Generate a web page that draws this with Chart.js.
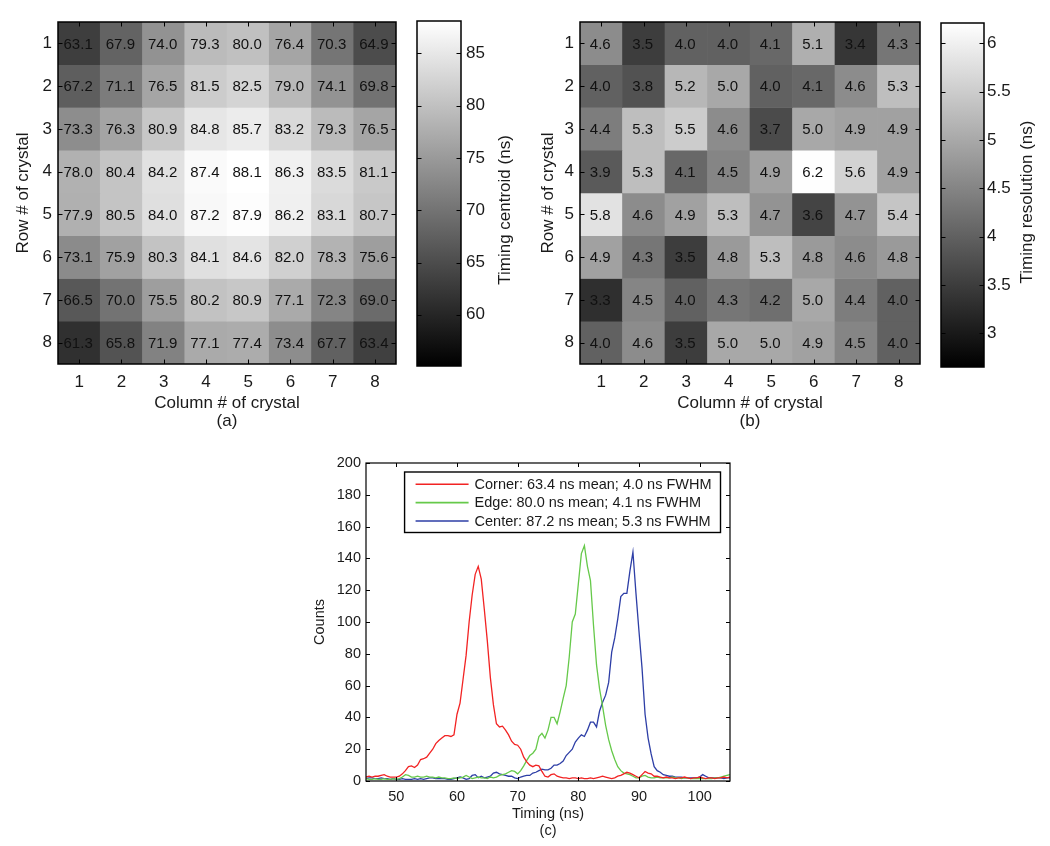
<!DOCTYPE html>
<html>
<head>
<meta charset="utf-8">
<script src="https://cdn.jsdelivr.net/npm/chart.js@4.4.1/dist/chart.umd.min.js"></script>
<style>
html,body{margin:0;padding:0;background:#fff;width:1050px;height:846px;overflow:hidden;}
canvas{position:absolute;}
</style>
</head>
<body>
<canvas id="heatA" style="left:0px;top:0px" width="410" height="440"></canvas>
<canvas id="barA" style="left:400px;top:0px" width="130" height="440"></canvas>
<canvas id="heatB" style="left:522px;top:0px" width="410" height="440"></canvas>
<canvas id="barB" style="left:925px;top:0px" width="125" height="440"></canvas>
<canvas id="lines" style="left:290px;top:440px" width="470" height="406"></canvas>
<script>
// ---------------- data ----------------
const crystalCols = ['1','2','3','4','5','6','7','8'];
const crystalRows = [1,2,3,4,5,6,7,8];

const centroidRows = [
  [63.1, 67.9, 74.0, 79.3, 80.0, 76.4, 70.3, 64.9],
  [67.2, 71.1, 76.5, 81.5, 82.5, 79.0, 74.1, 69.8],
  [73.3, 76.3, 80.9, 84.8, 85.7, 83.2, 79.3, 76.5],
  [78.0, 80.4, 84.2, 87.4, 88.1, 86.3, 83.5, 81.1],
  [77.9, 80.5, 84.0, 87.2, 87.9, 86.2, 83.1, 80.7],
  [73.1, 75.9, 80.3, 84.1, 84.6, 82.0, 78.3, 75.6],
  [66.5, 70.0, 75.5, 80.2, 80.9, 77.1, 72.3, 69.0],
  [61.3, 65.8, 71.9, 77.1, 77.4, 73.4, 67.7, 63.4]
];
const resolutionRows = [
  [4.6, 3.5, 4.0, 4.0, 4.1, 5.1, 3.4, 4.3],
  [4.0, 3.8, 5.2, 5.0, 4.0, 4.1, 4.6, 5.3],
  [4.4, 5.3, 5.5, 4.6, 3.7, 5.0, 4.9, 4.9],
  [3.9, 5.3, 4.1, 4.5, 4.9, 6.2, 5.6, 4.9],
  [5.8, 4.6, 4.9, 5.3, 4.7, 3.6, 4.7, 5.4],
  [4.9, 4.3, 3.5, 4.8, 5.3, 4.8, 4.6, 4.8],
  [3.3, 4.5, 4.0, 4.3, 4.2, 5.0, 4.4, 4.0],
  [4.0, 4.6, 3.5, 5.0, 5.0, 4.9, 4.5, 4.0]
];
const centroidRange = [55.1, 88.1];
const resolutionRange = [2.65, 6.21];
const centroidTicks = [60, 65, 70, 75, 80, 85];
const resolutionTicks = [3, 3.5, 4, 4.5, 5, 5.5, 6];

const timing = [
  45,45.5,46,46.5,47,47.5,48,48.5,49,49.5,
  50,50.5,51,51.5,52,52.5,53,53.5,54,54.5,
  55,55.5,56,56.5,57,57.5,58,58.5,59,59.5,
  60,60.5,61,61.5,62,62.5,63,63.5,64,64.5,
  65,65.5,66,66.5,67,67.5,68,68.5,69,69.5,
  70,70.5,71,71.5,72,72.5,73,73.5,74,74.5,
  75,75.5,76,76.5,77,77.5,78,78.5,79,79.5,
  80,80.5,81,81.5,82,82.5,83,83.5,84,84.5,
  85,85.5,86,86.5,87,87.5,88,88.5,89,89.5,
  90,90.5,91,91.5,92,92.5,93,93.5,94,94.5,
  95,95.5,96,96.5,97,97.5,98,98.5,99,99.5,
  100,100.5,101,101.5,102,102.5,103,103.5,104,104.5,
  105
];
const cornerCounts = [
  2.5,3,2.5,3,3,3.5,4,3,2.5,2.5,
  2.5,3,4.5,6.5,9,9.5,8.5,10,13.5,14,
  15,17.5,20,23.5,25.5,27,28.5,28.5,28,29,
  42,49,64,79,100,117,130,135,127,108,
  88,65,48,36,34,34.5,32,29,25,23,
  22.5,20,15,12,10,9,10,9.5,6,3,
  2.5,4,4.5,3,2.5,2,2,1.5,2,2,
  1.5,2,1.5,1.5,2,1.5,2,2.5,3,2.5,
  2,1.5,2,3,3.5,4.5,5.5,5,4,3,
  2,4,6,5,4.5,3,3,2.5,2,2.5,
  2,2,1.5,2,2,2.5,2,1.5,2,2,
  2.5,2,1.5,2,2,1.5,2,2,2.5,2,
  2.5
];
const edgeCounts = [
  1.5,1,1,1.5,1,1,1.5,1,1,1.5,
  1,1.5,2.5,4,3.5,2.5,2.5,3,2.5,2.5,
  3,2.5,2.5,2,2.5,2,2,1.5,1.5,2,
  1.5,2,2.5,3.5,2.5,1.5,2,2.5,2,2,
  1.5,2.5,2,2.5,3.5,4,4.5,5.5,6.5,6,
  4.5,6.5,9.5,13,16,17.5,20,28,30,27,
  32,40,40,36,43.5,52,60,78,100,105,
  124,143,148,135,126,98,73,58,47,35,
  26,19,13.5,9,6.5,5,4.5,4,3,2,
  2,3,3.5,2.5,2,2,2.5,2,2,2,
  2,2.5,2,2,1.5,2,2,1.5,1.5,1.5,
  1.5,1.5,1.5,1.5,1.5,2,2,2.5,3,3.5,
  4
];
const centerCounts = [
  1.5,2,2,1.5,1.5,2,1.5,1.5,1,1.5,
  1,1,1.5,1,1,1,1.5,1,1.5,1,
  1.5,2,2,1.5,1.5,1.5,1.5,1,1,1.5,
  2,2.5,2,1,1.5,3.5,4,2,3,2,
  2.5,3,5,5.5,4.5,4,3.5,3,3,2,
  1.5,2.5,3,3.5,3.5,5,5.5,6.5,7.5,7,
  7,8,10,10,11,12.5,16,18,20,24.5,
  27,29,28,32,37,37,34,44,49.5,54,
  62,81,90,102,116,118,118,132,144,118,
  94,71,42,27,17,9,6.5,5.5,4,3.5,
  3,3,2.5,2.5,2.5,2,2,2,2,2,
  2.5,4,3,2,2,2,2,2,1.5,2,
  2
];
const timingTicks = [50, 60, 70, 80, 90, 100];
const countTicks = [0, 20, 40, 60, 80, 100, 120, 140, 160, 180, 200];
const seriesLabels = [
  'Corner: 63.4 ns mean; 4.0 ns FWHM',
  'Edge: 80.0 ns mean; 4.1 ns FWHM',
  'Center: 87.2 ns mean; 5.3 ns FWHM'
];
const seriesColors = ['#f22323', '#66c94a', '#2d3ea6'];

// ---------------- helpers ----------------
const FONT = '"Liberation Sans", Arial, Helvetica, sans-serif';
Chart.defaults.font.family = FONT;
Chart.defaults.color = '#1a1a1a';

function grayOf(v, range) {
  const f = Math.max(0, Math.min(1, (v - range[0]) / (range[1] - range[0])));
  const g = Math.round(f * 255);
  return 'rgb(' + g + ',' + g + ',' + g + ')';
}
function fixedTicks(values) {
  return function (axis) { axis.ticks = values.map(v => ({ value: v })); };
}
const plainLabel = v => String(v);
const noGrid = { display: false, drawTicks: false };

const frame = {
  id: 'frame',
  afterDatasetsDraw(chart, args, o) {
    const { ctx, chartArea: a } = chart;
    const L = o.len || 4;
    ctx.save();
    ctx.strokeStyle = '#000';
    ctx.lineWidth = 1;
    ctx.beginPath();
    if (o.xTicks !== false) {
      const xs = chart.scales.x;
      xs.ticks.forEach((t, i) => {
        const px = Math.round(xs.getPixelForTick(i)) + 0.5;
        ctx.moveTo(px, a.bottom); ctx.lineTo(px, a.bottom - L);
        ctx.moveTo(px, a.top); ctx.lineTo(px, a.top + L);
      });
    }
    const ys = chart.scales.y;
    ys.ticks.forEach((t, i) => {
      const py = Math.round(ys.getPixelForTick(i)) + 0.5;
      ctx.moveTo(a.left, py); ctx.lineTo(a.left + L, py);
      ctx.moveTo(a.right, py); ctx.lineTo(a.right - L, py);
    });
    ctx.stroke();
    ctx.lineWidth = o.borderWidth || 1.2;
    ctx.strokeRect(a.left, a.top, a.right - a.left, a.bottom - a.top);
    ctx.restore();
  }
};

const cellLabels = {
  id: 'cellLabels',
  afterDatasetsDraw(chart, args, o) {
    const ctx = chart.ctx;
    ctx.save();
    ctx.font = o.size + 'px ' + FONT;
    ctx.fillStyle = '#111';
    ctx.textAlign = 'center';
    ctx.textBaseline = 'middle';
    chart.data.datasets.forEach((ds, di) => {
      chart.getDatasetMeta(di).data.forEach((el, j) => {
        ctx.fillText(ds.values[j].toFixed(1), el.x + (o.dx || 0), (el.y + el.base) / 2 + 1);
      });
    });
    ctx.restore();
  }
};

const sideTitle = {
  id: 'sideTitle',
  afterDraw(chart, args, o) {
    const ctx = chart.ctx;
    ctx.save();
    ctx.font = o.size + 'px ' + FONT;
    ctx.fillStyle = '#1a1a1a';
    ctx.textAlign = 'center';
    ctx.textBaseline = 'middle';
    ctx.translate(o.x, o.y);
    ctx.rotate(-Math.PI / 2);
    ctx.fillText(o.text, 0, 0);
    ctx.restore();
  }
};

const boxLegend = {
  id: 'boxLegend',
  afterDatasetsDraw(chart, args, o) {
    const { ctx, chartArea: a } = chart;
    ctx.save();
    ctx.font = o.size + 'px ' + FONT;
    const ds = chart.data.datasets;
    const tw = Math.max(...ds.map(d => ctx.measureText(d.label).width));
    const w = 70 + tw + 9;
    const h = 60.5;
    const right = a.right - 9.5;
    const left = right - w;
    const top = a.top + 9;
    ctx.fillStyle = '#fff';
    ctx.fillRect(left, top, w, h);
    ctx.strokeStyle = '#000';
    ctx.lineWidth = 1.4;
    ctx.strokeRect(left, top, w, h);
    ds.forEach((d, i) => {
      const y = top + 12.2 + i * 18.4;
      ctx.strokeStyle = d.borderColor;
      ctx.lineWidth = 1.6;
      ctx.beginPath();
      ctx.moveTo(left + 11, y); ctx.lineTo(left + 64, y);
      ctx.stroke();
      ctx.fillStyle = '#1a1a1a';
      ctx.textAlign = 'left';
      ctx.textBaseline = 'middle';
      ctx.fillText(d.label, left + 70, y + 0.5);
    });
    ctx.restore();
  }
};

// ---------------- heatmaps ----------------
function heatmap(id, rows, range, letter, yTitlePad, padRight) {
  return new Chart(document.getElementById(id), {
    type: 'bar',
    data: {
      labels: crystalCols,
      datasets: rows.map((vals, r) => ({
        data: vals.map(() => [crystalRows[r] - 0.5, crystalRows[r] + 0.5]),
        values: vals,
        backgroundColor: vals.map(v => grayOf(v, range)),
        borderWidth: 0,
        barPercentage: 1,
        categoryPercentage: 1,
        grouped: false
      }))
    },
    options: {
      responsive: false,
      animation: false,
      events: [],
      layout: { padding: { top: 22, right: padRight, left: 0, bottom: 0 } },
      plugins: {
        legend: { display: false },
        tooltip: { enabled: false },
        frame: { len: 4.5, borderWidth: 1.5 },
        cellLabels: { size: 15, dx: -1 }
      },
      scales: {
        x: {
          type: 'category',
          offset: true,
          grid: noGrid,
          border: { display: false },
          ticks: { font: { size: 17 }, padding: 8, autoSkip: false, maxRotation: 0 },
          title: { display: true, text: ['Column # of crystal', letter], font: { size: 17, lineHeight: 1.1 }, padding: { top: 0, bottom: 9 } },
          afterFit: s => { s.height = 76; }
        },
        y: {
          type: 'linear',
          min: 0.5,
          max: 8.5,
          reverse: true,
          afterBuildTicks: fixedTicks(crystalRows),
          grid: noGrid,
          border: { display: false },
          ticks: { font: { size: 17 }, padding: 6, callback: plainLabel },
          title: { display: true, text: 'Row # of crystal', font: { size: 17 }, padding: { top: yTitlePad, bottom: 0 } },
          afterFit: s => { s.width = 58; }
        }
      }
    },
    plugins: [frame, cellLabels]
  });
}

function colorbar(id, range, ticks, label, c) {
  return new Chart(document.getElementById(id), {
    type: 'bar',
    data: {
      labels: [''],
      datasets: [{
        data: [[range[0], range[1]]],
        backgroundColor: (ctx) => {
          const ch = ctx.chart, a = ch.chartArea;
          if (!a) return '#888';
          const g = ch.ctx.createLinearGradient(0, a.bottom, 0, a.top);
          g.addColorStop(0, '#000');
          g.addColorStop(1, '#fff');
          return g;
        },
        borderWidth: 0,
        barPercentage: 1,
        categoryPercentage: 1
      }]
    },
    options: {
      responsive: false,
      animation: false,
      events: [],
      layout: { padding: { top: c.top, left: c.left, bottom: c.bottom, right: 0 } },
      plugins: {
        legend: { display: false },
        tooltip: { enabled: false },
        frame: { xTicks: false, len: 4.5, borderWidth: 1.5 },
        sideTitle: { text: label, x: c.titleX, y: c.titleY, size: 17 }
      },
      scales: {
        x: { display: false },
        y: {
          position: 'right',
          min: range[0],
          max: range[1],
          afterBuildTicks: fixedTicks(ticks),
          grid: noGrid,
          border: { display: false },
          ticks: { font: { size: 17 }, padding: c.tickPad, callback: plainLabel },
          afterFit: s => { s.width = c.width; }
        }
      }
    },
    plugins: [frame, sideTitle]
  });
}

heatmap('heatA', centroidRows, centroidRange, '(a)', 13, 14);
colorbar('barA', centroidRange, centroidTicks, 'Timing centroid (ns)',
  { top: 21, left: 17, bottom: 74, width: 69, tickPad: 5, titleX: 105, titleY: 210 });
heatmap('heatB', resolutionRows, resolutionRange, '(b)', 16, 12);
colorbar('barB', resolutionRange, resolutionTicks, 'Timing resolution (ns)',
  { top: 23, left: 16, bottom: 73, width: 66, tickPad: 3, titleX: 102, titleY: 202 });

// ---------------- line chart ----------------
const seriesValues = [cornerCounts, edgeCounts, centerCounts];
new Chart(document.getElementById('lines'), {
  type: 'line',
  data: {
    datasets: seriesValues.map((vals, k) => ({
      label: seriesLabels[k],
      data: timing.map((t, i) => ({ x: t, y: vals[i] })),
      borderColor: seriesColors[k],
      borderWidth: 1.3,
      pointRadius: 0,
      tension: 0,
      fill: false
    }))
  },
  options: {
    responsive: false,
    animation: false,
    events: [],
    layout: { padding: { top: 23, right: 30, left: 0, bottom: 0 } },
    plugins: {
      legend: { display: false },
      tooltip: { enabled: false },
      frame: { len: 4, borderWidth: 1.2 },
      boxLegend: { size: 14.5 }
    },
    scales: {
      x: {
        type: 'linear',
        min: 45,
        max: 105,
        afterBuildTicks: fixedTicks(timingTicks),
        grid: noGrid,
        border: { display: false },
        ticks: { font: { size: 14.5 }, padding: 7.5, maxRotation: 0, callback: plainLabel },
        title: { display: true, text: ['Timing (ns)', '(c)'], font: { size: 14.5, lineHeight: 1.2 }, padding: { top: 0, bottom: 6 } },
        afterFit: s => { s.height = 65; }
      },
      y: {
        type: 'linear',
        min: 0,
        max: 200,
        afterBuildTicks: fixedTicks(countTicks),
        grid: noGrid,
        border: { display: false },
        ticks: { font: { size: 14.5 }, padding: 5, callback: plainLabel },
        title: { display: true, text: 'Counts', font: { size: 14.5 }, padding: { top: 21, bottom: 0 } },
        afterFit: s => { s.width = 76; }
      }
    }
  },
  plugins: [frame, boxLegend]
});
</script>
</body>
</html>
